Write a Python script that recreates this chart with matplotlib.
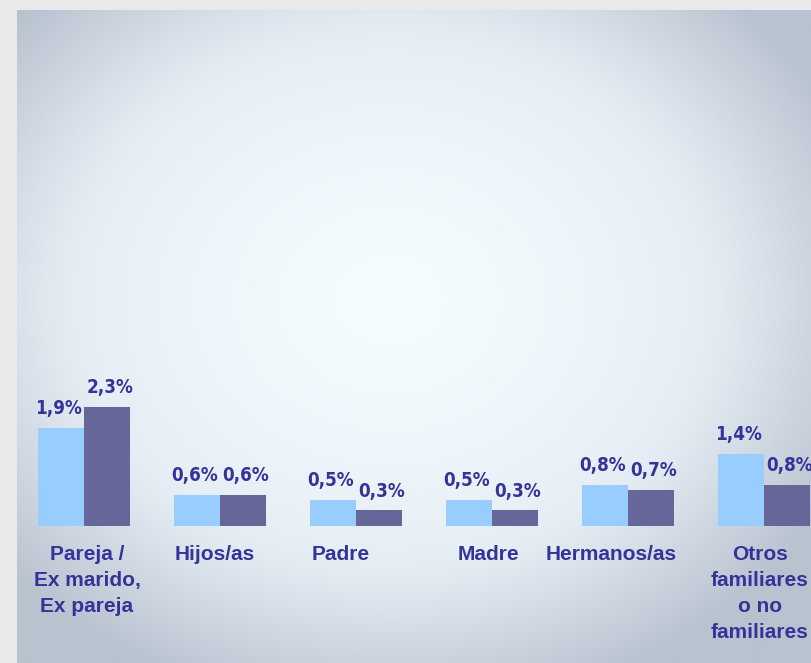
import numpy as np
import matplotlib.pyplot as plt
from matplotlib.colors import LinearSegmentedColormap

categories = ["Pareja /\nEx marido,\nEx pareja", "Hijos/as", "Padre", "Madre",
              "Hermanos/as", "Otros\nfamiliares\no no\nfamiliares"]
serie_clara = [1.9, 0.6, 0.5, 0.5, 0.8, 1.4]
serie_oscura = [2.3, 0.6, 0.3, 0.3, 0.7, 0.8]

W, H = 812, 663
fig = plt.figure(figsize=(W / 100, H / 100), dpi=100)
fig.patch.set_facecolor("#e9e9e9")

# panel with radial gradient
px0, px1, py0 = 17, 812, 10
bg = fig.add_axes([px0 / W, 0, (px1 - px0) / W, (H - py0) / H])
yy, xx = np.mgrid[0:300, 0:400]
xx = xx / 399 * (px1 - px0) + px0
yy = yy / 299 * (H - py0) + py0
r = np.sqrt(((xx - 390) / 500) ** 2 + ((yy - 300) / 420) ** 2)
r = np.clip(r, 0, 1) ** 1.5
cmap = LinearSegmentedColormap.from_list("g", ["#f4fcff", "#e6eef5", "#b9c2cf"])
bg.imshow(r, cmap=cmap, vmin=0, vmax=1, aspect="auto", extent=[0, 1, 0, 1])
bg.axis("off")

# bars
base = 526
ax = fig.add_axes([px0 / W, (H - base) / H, (px1 - px0) / W, (base - py0) / H])
ax.set_facecolor("none")
x = np.arange(len(categories))
w = 46 / 136
ax.bar(x - w / 2, serie_clara, w, color="#99ccff", linewidth=0)
ax.bar(x + w / 2, serie_oscura, w, color="#666699", linewidth=0)
ax.set_xlim((px0 - 84) / 136, (px1 - 84) / 136)
ax.set_ylim(0, (base - py0) / 51.7)
ax.axis("off")

navy = "#333399"
for i in range(len(categories)):
    for val, dx, shift in ((serie_clara[i], -w / 2, -2), (serie_oscura[i], w / 2, 3)):
        ax.annotate(f"{val:.1f}%".replace(".", ","), (x[i] + dx, val),
                    xytext=(shift * 0.72, 7), textcoords="offset points",
                    ha="center", va="bottom", color=navy, fontsize=13.5,
                    fontweight="bold", family="DejaVu Sans", fontstretch="condensed")

label_shift = [3, -5, -15, -4, -17, -4]
for i, lab in enumerate(categories):
    ax.annotate(lab, (x[i], 0), xytext=(label_shift[i] * 0.72, -14),
                textcoords="offset points", ha="center", va="top",
                color=navy, fontsize=15, fontweight="bold",
                family="Liberation Sans", linespacing=1.45,
                annotation_clip=False)

fig.savefig("out.png", dpi=100, facecolor=fig.get_facecolor())
